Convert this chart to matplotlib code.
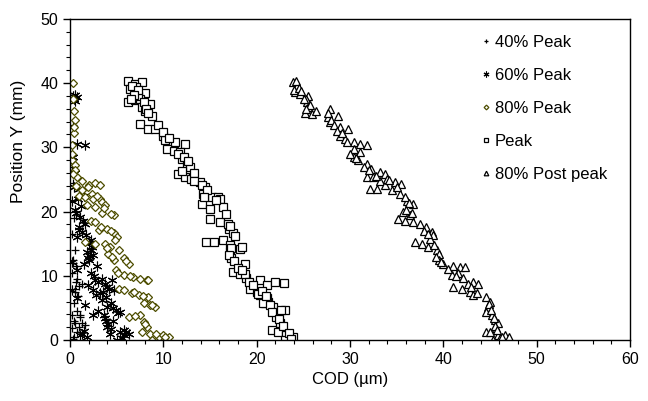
import numpy as np
import matplotlib
matplotlib.use("Agg")
import matplotlib.pyplot as plt
from matplotlib.ticker import MultipleLocator

plt.rcParams['font.family'] = ['Liberation Sans', 'DejaVu Sans']

# 40% Peak (+)
p40_x = [0.75, 1.3, 0.57, 0.4, 1.1, 0.57, 1.6, 0.93, 0.2, 0.4, 1.1, 0.2, 0.2,
         0.3, 0.5, 0.2, 0.4, 0.3, 0.2, 0.6, 0.9, 0.3,
         0.3, 0.6, 1.0, 0.5, 0.8, 0.4, 1.3, 0.7, 0.3]
p40_y = [9.55, 8.8, 8.0, 5.7, 3.9, 2.6, 2.3, 2.1, 1.8, 0.5, 3.6, 10.4, 3.9,
         12.5, 14.0, 16.5, 19.0, 24.5, 27.0, 11.5, 6.8, 33.4,
         12.0, 9.0, 8.4, 7.5, 4.5, 3.0, 2.6, 1.2, 0.2]

# 60% Peak (*)
p60_x = [0.39, 0.75, 0.55, 0.75, 1.6, 0.4, 0.93, 0.2, 0.57, 1.1, 1.6, 0.93, 1.3,
         0.75, 2.2, 2.4, 1.8, 2.5, 2.0, 0.2, 0.75, 2.2, 2.7, 3.4, 4.5, 4.0, 2.5,
         3.25, 4.7, 0.75, 1.6, 3.4, 4.0, 4.9, 5.4, 2.5, 3.8, 4.0, 1.3, 1.8, 5.0,
         5.75, 6.3, 5.4, 4.3, 0.2, 1.2, 1.5, 2.9, 3.0, 1.9, 5.8, 4.6, 0.5, 0.3,
         0.5, 0.3, 0.9, 0.6, 1.4, 1.0, 1.7, 2.0, 2.3, 2.1, 1.9, 1.5, 2.6, 3.0,
         3.7, 4.2, 3.5, 2.8, 3.9, 4.4, 4.6, 5.1, 3.6, 3.9, 4.1, 4.4, 5.6, 6.0,
         1.1, 1.5]
p60_y = [37.5, 37.8, 38.2, 30.5, 30.4, 23.8, 23.55, 21.7, 20.2, 19.2, 18.1, 17.6, 16.8,
         16.1, 15.5, 14.5, 13.7, 13.2, 12.4, 12.2, 10.9, 10.4, 9.3, 9.55, 9.3, 8.3, 7.8,
         7.3, 7.8, 6.5, 5.4, 6.2, 5.2, 4.7, 4.4, 3.9, 3.4, 2.1, 1.0, 0.5, 0.0,
         0.8, 1.0, 1.3, 1.0, 7.8, 20.8, 22.5, 11.5, 4.5, 8.5, 1.6, 3.0, 26.0, 28.5,
         37.2, 38.0, 22.0, 19.7, 18.6, 17.2, 16.4, 15.1, 14.0, 13.1, 12.7, 11.8, 10.0, 9.0,
         8.8, 8.0, 7.5, 7.0, 6.7, 5.7, 5.0, 4.2, 3.9, 2.9, 2.5, 1.7, 0.3, 1.2,
         0.8, 1.4]

# 80% Peak (diamond)
p80_x = [0.29, 0.39, 0.5, 0.39, 0.2, 0.2, 0.5, 0.57, 0.75, 1.3, 2.0, 2.7, 3.25,
         1.3, 2.4, 3.25, 0.93, 1.6, 2.5, 3.4, 3.8, 1.8, 2.7, 3.4, 4.7, 2.2, 2.7,
         3.1, 4.0, 4.7, 5.0, 1.6, 2.7, 3.8, 4.3, 5.2, 4.1, 4.7, 5.75, 6.3, 4.9,
         5.75, 6.8, 7.5, 8.25, 5.2, 5.75, 6.6, 7.4, 8.1, 8.4, 7.9, 8.6, 9.1, 6.3,
         7.5, 7.9, 8.25, 8.6, 8.8, 9.5, 10.0, 10.6, 7.7,
         0.35, 0.4, 0.25, 0.3, 0.6, 1.9, 2.9, 3.6, 4.4, 3.3, 4.4, 4.8, 4.0,
         4.5, 6.0, 5.1, 6.4, 8.4, 6.9, 7.8, 8.8, 7.0, 8.0, 9.2, 10.2]
p80_y = [40.0, 35.7, 34.2, 32.3, 30.3, 27.95, 27.2, 26.4, 25.4, 24.8, 24.1, 24.4, 24.1,
         23.3, 22.8, 22.0, 22.5, 22.3, 22.0, 21.5, 21.0, 21.0, 20.7, 19.7, 19.4, 18.6, 18.4,
         17.1, 17.3, 16.6, 16.1, 15.3, 15.0, 15.0, 14.5, 14.0, 13.45, 12.4, 12.7, 11.9, 10.9,
         10.1, 9.8, 9.55, 9.3, 8.0, 7.8, 7.3, 7.0, 6.5, 6.75, 5.7, 5.4, 5.2, 3.6,
         3.9, 2.85, 2.1, 1.0, 0.0, 0.5, 0.8, 0.5, 1.3,
         37.6, 33.2, 29.0, 25.8, 24.0, 23.8, 22.4, 20.6, 19.6, 17.6, 16.9, 15.6, 14.4,
         13.0, 12.3, 10.5, 10.0, 9.4, 7.5, 6.9, 5.5, 3.7, 2.5, 0.9, 0.4]

# Peak (square)
pk_x = [6.25, 6.96, 7.68, 6.4, 7.1, 8.0, 6.25, 7.0, 7.5, 7.7, 8.0, 8.75, 7.5,
        8.4, 9.1, 10.0, 10.2, 11.25, 12.3, 10.4, 11.1, 11.8, 12.0, 12.5, 12.9, 11.6,
        12.3, 13.0, 13.9, 14.5, 14.3, 15.2, 15.9, 16.1, 14.1, 15.0, 16.4, 15.0, 16.1,
        17.0, 17.5, 14.6, 15.4, 16.4, 17.1, 18.2, 17.1, 17.3, 18.75, 17.5, 18.2, 18.9,
        20.4, 21.1, 19.3, 20.0, 20.4, 20.9, 21.25, 18.4, 18.75, 22.0, 22.9, 20.2, 21.1,
        20.7, 21.8, 23.0, 22.1, 22.5, 21.6, 22.3, 23.2, 23.9, 23.0, 7.3, 8.6, 13.3,
        6.6, 7.3, 6.9, 6.5, 7.9, 8.2, 8.4, 9.4, 10.0, 10.6, 11.6, 12.2, 12.6,
        12.0, 13.3, 14.2, 14.7, 14.4, 15.6, 16.7, 16.9, 17.2, 17.7, 17.3, 17.0,
        17.6, 18.0, 18.4, 19.2, 19.6, 20.6, 21.0, 21.4, 21.7, 22.4, 22.8, 23.5,
        23.7, 22.6]
pk_y = [40.4, 39.9, 40.1, 39.1, 39.4, 38.5, 37.0, 37.3, 37.5, 36.2, 35.7, 34.9, 33.6,
        32.9, 32.9, 31.8, 31.1, 30.8, 30.5, 29.8, 29.5, 29.3, 28.2, 27.4, 26.9, 25.9,
        25.4, 25.1, 24.6, 23.8, 22.8, 22.3, 22.3, 22.0, 21.2, 20.4, 20.7, 18.9, 18.4,
        17.3, 16.6, 15.3, 15.3, 15.5, 14.75, 14.2, 13.7, 12.7, 11.9, 10.6, 10.3, 9.6,
        9.3, 8.5, 8.0, 7.5, 7.0, 5.7, 5.95, 14.5, 10.3, 9.1, 8.9, 7.2, 6.5,
        5.7, 5.2, 4.7, 3.6, 2.6, 1.55, 1.3, 0.8, 0.5, 0.0, 38.0, 36.8, 26.0,
        39.6, 39.0, 38.2, 37.6, 37.0, 36.0, 35.3, 33.5, 32.4, 31.5, 29.0, 28.5, 27.8,
        26.3, 24.7, 24.2, 23.3, 22.2, 21.8, 19.6, 18.0, 17.7, 16.2, 14.3, 13.3,
        12.3, 11.2, 10.9, 9.1, 8.6, 7.7, 6.9, 5.4, 4.3, 3.2, 2.2, 1.1,
        0.2, 4.6]

# 80% Post peak (triangle)
pp_x = [23.9, 24.3, 24.1, 24.6, 25.5, 25.4, 25.5, 25.2, 25.9, 26.4, 27.9, 27.7, 28.75,
        27.9, 28.9, 29.8, 28.9, 29.5, 30.4, 31.1, 31.8, 30.4, 31.1, 30.4, 30.9, 31.8,
        32.3, 33.2, 33.75, 31.8, 32.5, 33.2, 32.1, 32.9, 33.75, 34.8, 35.5, 34.5, 35.4,
        36.1, 36.8, 35.7, 36.4, 35.2, 35.9, 36.8, 37.5, 38.2, 38.75, 38.9, 38.6, 37.0,
        37.7, 38.4, 39.3, 39.6, 39.5, 40.0, 41.1, 41.8, 42.3, 40.9, 41.6, 42.1, 43.2,
        43.75, 41.1, 42.0, 42.9, 43.2, 44.6, 45.0, 44.8, 44.6, 45.2, 45.5, 45.9, 45.7,
        44.6, 45.0, 45.9, 46.6, 47.0, 45.3, 46.1, 24.0, 25.3, 34.0,
        24.2, 24.5, 24.8, 25.1, 25.7, 25.3, 27.6, 28.0, 28.3, 28.6, 29.2, 29.7, 30.0,
        30.7, 31.5, 32.0, 32.8, 34.2, 35.0, 35.9, 36.3, 36.0, 36.6, 37.9, 38.4, 39.0,
        39.2, 39.8, 40.5, 41.4, 42.7, 43.0, 43.6, 44.9, 45.1, 45.4, 45.6, 45.8, 46.3]
pp_y = [40.1, 39.6, 38.6, 38.3, 38.0, 37.0, 36.2, 35.4, 35.2, 35.7, 36.0, 34.7, 34.9,
        33.9, 33.1, 32.9, 31.8, 31.3, 30.8, 30.5, 30.3, 29.8, 29.3, 28.5, 28.0, 27.4,
        26.7, 26.1, 25.9, 25.4, 25.4, 24.8, 23.55, 23.55, 24.1, 24.6, 24.3, 23.3, 22.8,
        21.7, 21.2, 19.9, 19.4, 18.9, 18.6, 18.4, 18.1, 17.6, 16.8, 16.3, 15.8, 15.3,
        15.0, 14.5, 14.0, 13.45, 12.4, 11.9, 11.6, 11.4, 11.3, 10.1, 10.4, 9.6, 9.1,
        8.8, 8.3, 8.0, 7.5, 7.0, 6.75, 5.95, 5.2, 4.4, 3.9, 3.1, 2.6, 1.8,
        1.3, 1.3, 0.8, 0.8, 0.4, 0.0, 0.25, 39.0, 37.5, 25.0,
        40.4, 39.2, 38.8, 37.5, 36.6, 36.0, 35.3, 34.3, 33.5, 32.5, 32.3, 30.9, 29.0,
        28.3, 27.0, 26.5, 25.6, 24.9, 23.9, 22.2, 21.3, 20.3, 19.8, 17.0, 16.5, 14.8,
        13.0, 12.1, 11.0, 9.9, 8.7, 8.3, 7.3, 5.6, 4.7, 3.5, 2.2, 1.5, 0.5]

olive = '#4d4d00'

fig, ax = plt.subplots(figsize=(6.48, 4.01), dpi=100)
fig.subplots_adjust(left=0.108, right=0.972, bottom=0.152, top=0.953)

ax.plot(p40_x, p40_y, ls='none', marker='+', ms=6, mew=0.9, color='black', label='40% Peak')
ax.plot(p60_x, p60_y, ls='none', marker=(6, 2, 0), ms=7, mew=0.8, color='black', label='60% Peak')
ax.plot(p80_x, p80_y, ls='none', marker='D', ms=4, mew=0.9, mfc='white', mec=olive, label='80% Peak')
ax.plot(pk_x, pk_y, ls='none', marker='s', ms=5.5, mew=0.9, mfc='white', mec='black', label='Peak')
ax.plot(pp_x, pp_y, ls='none', marker='^', ms=5.5, mew=0.9, mfc='white', mec='black', label='80% Post peak')

ax.set_xlim(0, 60)
ax.set_ylim(0, 50)
ax.xaxis.set_major_locator(MultipleLocator(10))
ax.xaxis.set_minor_locator(MultipleLocator(2))
ax.yaxis.set_major_locator(MultipleLocator(10))
ax.yaxis.set_minor_locator(MultipleLocator(2))
ax.tick_params(which='major', direction='out', length=5, width=1, labelsize=11.5)
ax.tick_params(which='minor', direction='out', length=3, width=0.8)
for s in ax.spines.values():
    s.set_linewidth(1)

ax.set_xlabel('COD (µm)', fontsize=12)
ax.set_ylabel('Position Y (mm)', fontsize=12.5)
ax.yaxis.set_label_coords(-0.078, 0.62)

leg = ax.legend(loc='upper left', frameon=False, fontsize=12, markerscale=0.6,
                handlelength=0.5, handletextpad=0.3, labelspacing=1.08,
                borderaxespad=0, borderpad=0, bbox_to_anchor=(0.735, 0.95))

fig.savefig('out.png', dpi=100)
